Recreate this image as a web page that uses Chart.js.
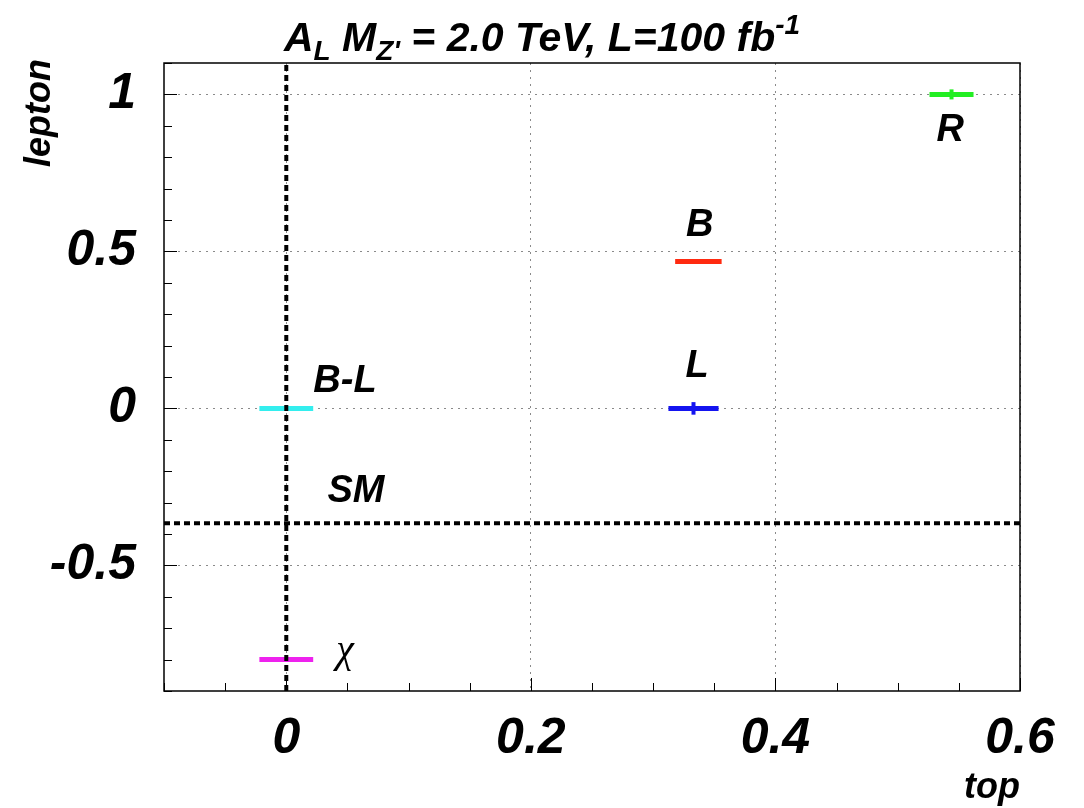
<!DOCTYPE html>
<html>
<head>
<meta charset="utf-8">
<script src="https://cdn.jsdelivr.net/npm/chart.js@4.4.1/dist/chart.umd.min.js"></script>
<style>
  html, body { margin: 0; padding: 0; background: #fff; }
  #chart { display: block; }
</style>
</head>
<body>
<canvas id="chart" width="1084" height="808"></canvas>
<script>
// Z' models: forward-backward asymmetry, top vs lepton
var models = ["R", "B", "L", "B-L", "\u03c7"];
var colors = ["#22ee22", "#ff2a10", "#1414f0", "#33eeee", "#ee22ee"];
var topA = [0.544, 0.337, 0.333, 0.0, 0.0];
var topErr = [0.018, 0.019, 0.0205, 0.022, 0.022];
var leptonA = [1.0, 0.468, 0.0, 0.0, -0.8];
var leptonErr = [0.016, 0.004, 0.02, 0.0, 0.0];

// where each model name is written
var labelTop = [0.543, 0.338, 0.336, 0.048, 0.048];
var labelLepton = [0.895, 0.594, 0.145, 0.095, -0.78];

// standard model reference lines
var smTop = 0.0;
var smLepton = -0.366;
var smLabelTop = 0.057;
var smLabelLepton = -0.255;

var xMin = -0.1, xMax = 0.6;
var yMin = -0.9, yMax = 1.1;
var xTicks = [0, 0.2, 0.4, 0.6];
var yTicks = [-0.5, 0, 0.5, 1];

var FONT = "'Liberation Sans', Arial, Helvetica, sans-serif";

var datasets = [];
models.forEach(function (m, i) {
  datasets.push({
    label: m,
    data: [
      { x: topA[i] - topErr[i], y: leptonA[i] },
      { x: topA[i] + topErr[i], y: leptonA[i] }
    ],
    borderColor: colors[i],
    borderWidth: 5,
    borderCapStyle: "butt",
    showLine: true,
    pointRadius: 0,
    order: 2
  });
  if (leptonErr[i] > 0) {
    datasets.push({
      label: m + " err",
      data: [
        { x: topA[i], y: leptonA[i] - leptonErr[i] },
        { x: topA[i], y: leptonA[i] + leptonErr[i] }
      ],
      borderColor: colors[i],
      borderWidth: 4,
      borderCapStyle: "butt",
      showLine: true,
      pointRadius: 0,
      order: 2
    });
  }
});
datasets.push({
  label: "SM lepton",
  data: [{ x: xMin, y: smLepton }, { x: xMax, y: smLepton }],
  borderColor: "#000",
  borderWidth: 4,
  borderDash: [6, 4],
  borderCapStyle: "butt",
  showLine: true,
  pointRadius: 0,
  order: 1
});
datasets.push({
  label: "SM top",
  data: [{ x: smTop, y: yMin }, { x: smTop, y: yMax }],
  borderColor: "#000",
  borderWidth: 4,
  borderDash: [6, 4],
  borderCapStyle: "butt",
  showLine: true,
  pointRadius: 0,
  order: 1
});

function textFont(size, italic, bold, fam) {
  return (italic ? "italic " : "") + (bold ? "bold " : "") + size + "px " + (fam || FONT);
}

// frame, inner tick marks, labels and titles
var decorations = {
  id: "decorations",
  afterDraw: function (chart) {
    var c = chart.ctx, a = chart.chartArea;
    var xs = chart.scales.x, ys = chart.scales.y;
    c.save();
    c.strokeStyle = "#000";
    c.lineWidth = 1.5;
    c.strokeRect(a.left, a.top, a.right - a.left, a.bottom - a.top);

    c.lineWidth = 1;
    c.beginPath();
    for (var k = 0; k <= 14; k++) {
      var v = xMin + k * 0.05;
      var px = Math.round(xs.getPixelForValue(v)) + 0.5;
      var major = Math.abs(v / 0.2 - Math.round(v / 0.2)) < 1e-6;
      c.moveTo(px, a.bottom);
      c.lineTo(px, a.bottom - (major ? 13 : 8));
    }
    for (var j = 0; j <= 20; j++) {
      var w = yMin + j * 0.1;
      var py = Math.round(ys.getPixelForValue(w)) + 0.5;
      var majorY = Math.abs(w / 0.5 - Math.round(w / 0.5)) < 1e-6;
      c.moveTo(a.left, py);
      c.lineTo(a.left + (majorY ? 13 : 8), py);
    }
    c.stroke();

    // model names
    c.fillStyle = "#000";
    c.textAlign = "center";
    c.textBaseline = "alphabetic";
    models.forEach(function (m, i) {
      var greek = m === "\u03c7";
      var size = greek ? 40 : 38;
      c.font = greek ? textFont(size, true, false, "'Liberation Serif', 'DejaVu Serif', serif") : textFont(size, true, true);
      var lx = xs.getPixelForValue(labelTop[i]);
      var ly = ys.getPixelForValue(labelLepton[i]) + (greek ? 0.22 : 0.36) * size;
      c.fillText(m, lx, ly);
    });
    c.font = textFont(38, true, true);
    c.fillText("SM", xs.getPixelForValue(smLabelTop), ys.getPixelForValue(smLabelLepton) + 0.36 * 38);

    // axis titles
    c.font = textFont(36, true, true);
    c.textAlign = "right";
    c.fillText("top", a.right, 798);
    c.save();
    c.translate(50, a.top - 4);
    c.rotate(-Math.PI / 2);
    c.fillText("lepton", 0, 0);
    c.restore();

    // title with sub- and superscripts
    var parts = [
      { t: "A", s: 41, dy: 0 },
      { t: "L", s: 28, dy: 9 },
      { t: " M", s: 41, dy: 0 },
      { t: "Z'", s: 28, dy: 9 },
      { t: " = 2.0 TeV, L=100 fb", s: 41, dy: 0 },
      { t: "-1", s: 28, dy: -17 }
    ];
    var total = 0;
    parts.forEach(function (p) {
      c.font = textFont(p.s, true, true);
      p.w = c.measureText(p.t).width;
      total += p.w;
    });
    var tx = 542 - total / 2;
    c.textAlign = "left";
    parts.forEach(function (p) {
      c.font = textFont(p.s, true, true);
      c.fillText(p.t, tx, 51 + p.dy);
      tx += p.w;
    });
    c.restore();
  }
};

var tickFont = { family: FONT, size: 50, weight: "bold", style: "italic" };

new Chart(document.getElementById("chart"), {
  type: "scatter",
  data: { datasets: datasets },
  options: {
    responsive: false,
    animation: false,
    devicePixelRatio: 1,
    layout: { padding: { top: 63, right: 64, left: 0, bottom: 0 } },
    plugins: {
      legend: { display: false },
      tooltip: { enabled: false }
    },
    elements: { line: { tension: 0 } },
    scales: {
      x: {
        type: "linear",
        min: xMin,
        max: xMax,
        afterBuildTicks: function (s) {
          s.ticks = xTicks.map(function (v) { return { value: v }; });
        },
        afterFit: function (s) { s.height = 117; },
        ticks: {
          font: tickFont,
          color: "#000",
          padding: 18,
          maxRotation: 0,
          callback: function (v) { return String(+v.toFixed(1)); }
        },
        grid: { color: "#8a8a8a", lineWidth: 1, drawTicks: false },
        border: { display: false, dash: [2, 5] }
      },
      y: {
        type: "linear",
        min: yMin,
        max: yMax,
        afterBuildTicks: function (s) {
          s.ticks = yTicks.map(function (v) { return { value: v }; });
        },
        afterFit: function (s) { s.width = 164; },
        ticks: {
          font: tickFont,
          color: "#000",
          padding: 28,
          callback: function (v) { return String(+v.toFixed(1)); }
        },
        grid: { color: "#8a8a8a", lineWidth: 1, drawTicks: false },
        border: { display: false, dash: [2, 5] }
      }
    }
  },
  plugins: [decorations]
});
</script>
</body>
</html>
